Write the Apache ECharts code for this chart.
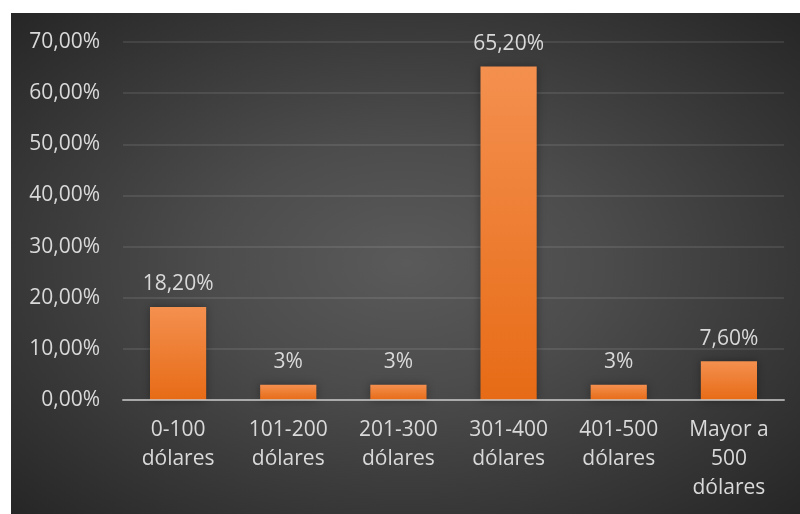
<!DOCTYPE html>
<html>
<head>
<meta charset="utf-8">
<script src="https://cdn.jsdelivr.net/npm/echarts@6/dist/echarts.min.js"></script>
<style>
  html, body { margin: 0; padding: 0; background: #ffffff; }
  #wrap { position: relative; width: 800px; height: 514px; overflow: hidden; }
  #bg {
    position: absolute; left: 11px; top: 13px; right: 0; bottom: 0;
    background: radial-gradient(ellipse farthest-corner at 50% 50%, #5a5a5a 0%, #4c4c4c 35%, #262626 100%);
  }
  #chart { position: absolute; left: 0; top: 0; width: 800px; height: 514px; }
</style>
</head>
<body>
<div id="wrap">
  <div id="bg"></div>
  <div id="chart"></div>
</div>
<script>
// Price ranges and the share of answers for each one (percent)
const categories = [
  '0-100\ndólares',
  '101-200\ndólares',
  '201-300\ndólares',
  '301-400\ndólares',
  '401-500\ndólares',
  'Mayor a\n500\ndólares'
];
const shares = [18.2, 3, 3, 65.2, 3, 7.6];

// Value axis range
const axisMin = 0;
const axisMax = 70;
const axisStep = 10;

const textColor = '#d9d9d9';
const fontFamily = '"Open Sans", "Noto Sans", sans-serif';

function pct(v) {
  return v.toFixed(2).replace('.', ',') + '%';
}
function shareLabel(v) {
  return Number.isInteger(v) ? v + '%' : pct(v);
}

const chart = echarts.init(document.getElementById('chart'), null, { renderer: 'canvas' });

chart.setOption({
  backgroundColor: 'transparent',
  animation: false,
  grid: { left: 123, right: 16, top: 42, bottom: 114, containLabel: false },
  xAxis: {
    type: 'category',
    data: categories,
    axisTick: { show: false },
    axisLine: { show: true, lineStyle: { color: 'rgba(200,200,200,0.75)', width: 2 } },
    axisLabel: {
      color: textColor,
      fontFamily: fontFamily,
      fontSize: 21,
      lineHeight: 29,
      margin: 16,
      interval: 0
    },
    z: 5
  },
  yAxis: {
    type: 'value',
    min: axisMin,
    max: axisMax,
    interval: axisStep,
    axisLine: { show: false },
    axisTick: { show: false },
    splitLine: { lineStyle: { color: 'rgba(255,255,255,0.09)', width: 2 } },
    axisLabel: {
      color: textColor,
      fontFamily: fontFamily,
      fontSize: 21,
      margin: 23,
      formatter: pct
    }
  },
  series: [{
    type: 'bar',
    data: shares,
    barCategoryGap: '49%',
    itemStyle: {
      color: new echarts.graphic.LinearGradient(0, 0, 0, 1, [
        { offset: 0, color: '#f4904f' },
        { offset: 1, color: '#e76b16' }
      ]),
      shadowBlur: 8,
      shadowColor: 'rgba(0,0,0,0.35)'
    },
    label: {
      show: true,
      position: 'top',
      distance: 12,
      color: textColor,
      fontFamily: fontFamily,
      fontSize: 21,
      formatter: p => shareLabel(p.value)
    }
  }]
});
</script>
</body>
</html>
